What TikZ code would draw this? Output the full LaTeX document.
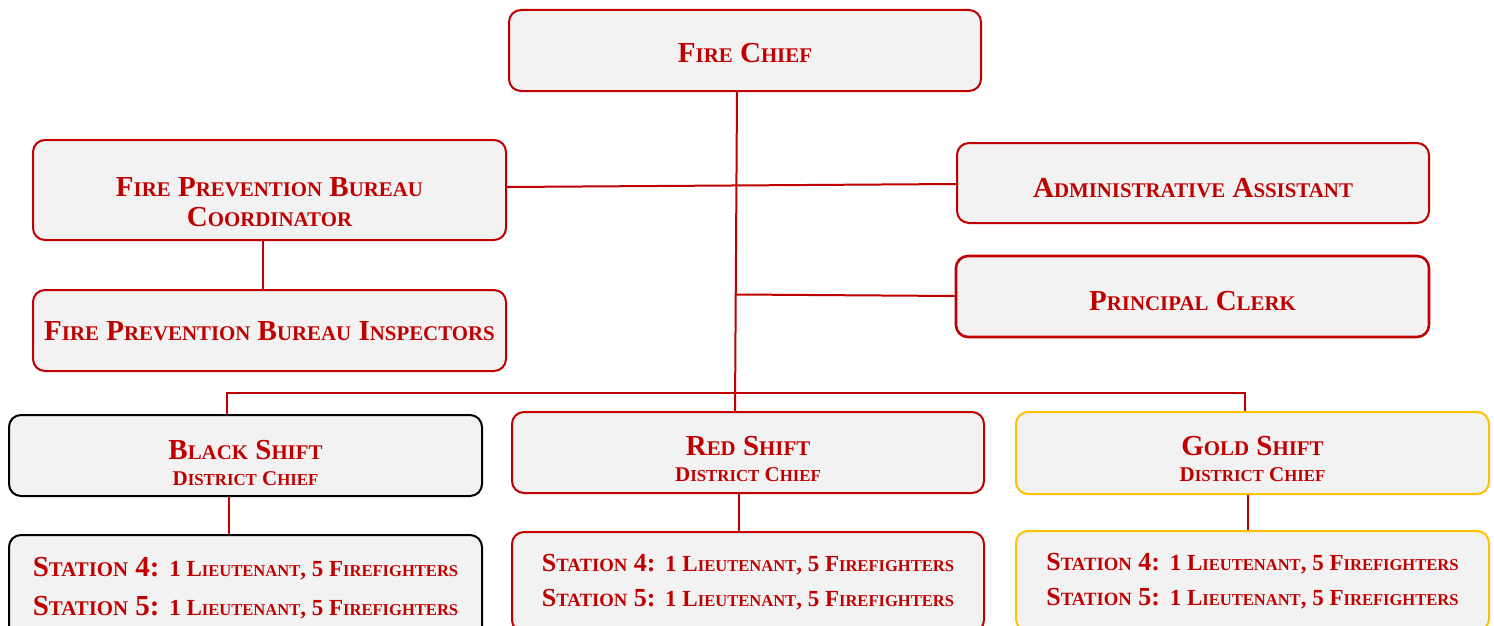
\documentclass[tikz,border=0pt]{standalone}
\usepackage{fontspec}
\setmainfont{Liberation Serif}
\definecolor{fred}{HTML}{C00000}
\definecolor{fgold}{HTML}{FFC000}
\definecolor{ffill}{HTML}{F2F2F2}
\makeatletter
\newcommand\sm[1]{{\fontsize{\fpeval{0.72*\f@size}}{\f@baselineskip}\selectfont #1}}
\newcommand\smb[1]{{\fontsize{\fpeval{0.8*\f@size}}{\f@baselineskip}\selectfont #1}}
\makeatother
\newcommand\fsz[1]{\fontsize{#1}{#1}\selectfont}
\newcommand\dchief{{\fsz{21}D\smb{ISTRICT} C\smb{HIEF}}}
\newcommand\crew{{\fsz{23}1 L\sm{IEUTENANT}, 5 F\sm{IREFIGHTERS}}}
\newcommand\stn[1]{{\fsz{26}S\sm{TATION} #1:}}
\tikzset{
  box/.style={draw=fred, fill=ffill, line width=2pt, rounded corners=12pt, inner sep=0pt},
  lbl/.style={text=fred, font=\bfseries\fsz{29}, align=center, inner sep=0pt},
  link/.style={draw=fred, line width=2pt},
}
\begin{document}
\begin{tikzpicture}[x=1pt, y=-1pt]
\clip (0,0) rectangle (1494,626);
\fill[white] (0,0) rectangle (1494,626);
% top level boxes
\node[box, minimum width=472pt, minimum height=81pt] (chief) at (745,50.5) {};
\node[box, minimum width=473pt, minimum height=100pt] (fpbc) at (269.5,190) {};
\node[box, minimum width=473pt, minimum height=81pt] (fpbi) at (269.5,330.5) {};
\node[box, minimum width=472pt, minimum height=80pt] (admin) at (1193,183) {};
\node[box, line width=2.6pt, minimum width=473pt, minimum height=81pt] (clerk) at (1192.5,296.5) {};
% shift boxes
\node[box, draw=black, minimum width=473pt, minimum height=81pt] (black) at (245.5,455.5) {};
\node[box, minimum width=472pt, minimum height=81pt] (red) at (748,452.5) {};
\node[box, draw=fgold, minimum width=473pt, minimum height=82pt] (gold) at (1252.5,453) {};
% station boxes
\node[box, draw=black, minimum width=473pt, minimum height=105pt] (sblack) at (245.5,587.5) {};
\node[box, minimum width=472pt, minimum height=100pt] (sred) at (748,582) {};
\node[box, draw=fgold, minimum width=473pt, minimum height=100pt] (sgold) at (1252.5,581) {};
% labels
\node[lbl] (chiefT) at ([yshift=-3pt]chief.center) {F\sm{IRE} C\sm{HIEF}};
\node[lbl] (fpbcT) at ([yshift=-12pt]fpbc.center) {F\sm{IRE} P\sm{REVENTION} B\sm{UREAU}\\[1pt] C\sm{OORDINATOR}};
\node[lbl] (fpbiT) at ([yshift=-1pt]fpbi.center) {F\sm{IRE} P\sm{REVENTION} B\sm{UREAU} I\sm{NSPECTORS}};
\node[lbl] (adminT) at ([yshift=-5pt]admin.center) {A\sm{DMINISTRATIVE} A\sm{SSISTANT}};
\node[lbl] (clerkT) at ([yshift=-5pt]clerk.center) {P\sm{RINCIPAL} C\sm{LERK}};
\node[lbl] (blackT) at ([yshift=-7pt]black.center) {B\sm{LACK} S\sm{HIFT}\\[-3pt] \dchief};
\node[lbl] (redT) at ([yshift=-6.5pt]red.center) {R\sm{ED} S\sm{HIFT}\\[-3pt] \dchief};
\node[lbl] (goldT) at ([yshift=-6pt]gold.center) {G\sm{OLD} S\sm{HIFT}\\[-3pt] \dchief};
\node[lbl] (sblackT) at ([yshift=-1pt]sblack.center) {S\sm{TATION} 4: \crew\\[10pt] S\sm{TATION} 5: \crew};
\node[lbl] (sredT) at (sred.center) {\stn{4} \crew\\[6pt] \stn{5} \crew};
\node[lbl] (sgoldT) at (sgold.center) {\stn{4} \crew\\[6pt] \stn{5} \crew};
% connectors
\coordinate (trunkc) at (736,294.5);
\coordinate (busl) at (227,393);
\coordinate (busr) at (1245,393);
\draw[link] ([xshift=-8pt]chief.south) -- ([xshift=-13pt]red.north);
\draw[link] ([yshift=3pt]fpbc.east) -- ([yshift=-1pt]admin.west);
\draw[link] (trunkc) -- ([yshift=0.5pt]clerk.west);
\draw[link] ([xshift=-6.5pt]fpbc.south) -- ([xshift=-6.5pt]fpbi.north);
\draw[link] ([xshift=-18.5pt]black.north) -- (busl) -- (busr) -- ([xshift=-7.5pt]gold.north);
\draw[link] ([xshift=-16.5pt]black.south) -- ([xshift=-16.5pt]sblack.north);
\draw[link] ([xshift=-9pt]red.south) -- ([xshift=-9pt]sred.north);
\draw[link] ([xshift=-4.5pt]gold.south) -- ([xshift=-4.5pt]sgold.north);
\end{tikzpicture}
\end{document}
